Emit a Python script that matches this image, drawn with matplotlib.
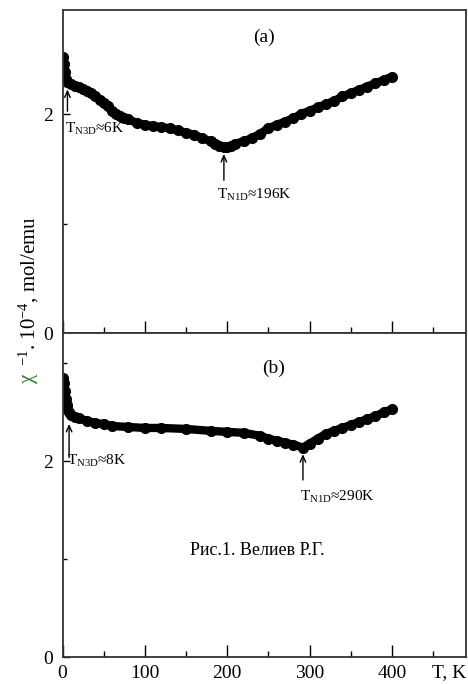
import matplotlib
matplotlib.use("Agg")
import matplotlib.pyplot as plt
from matplotlib.ticker import MultipleLocator

plt.rcParams["font.family"] = ["Liberation Serif", "DejaVu Serif"]
plt.rcParams["mathtext.fontset"] = "custom"
plt.rcParams["mathtext.rm"] = "Liberation Serif"
plt.rcParams["mathtext.it"] = "Liberation Serif:italic"

# panel (a)
t_a = [1, 2, 3, 4, 6, 10, 15, 20, 25, 30, 35, 40, 45, 50, 55, 60, 65, 70, 75,
       80, 90, 100, 110, 120, 130, 140, 150, 160, 170, 180, 185, 190, 196, 200,
       205, 210, 220, 230, 240, 250, 260, 270, 280, 290, 300, 310, 320, 330,
       340, 350, 360, 370, 380, 390, 400]
chi_a = [2.52, 2.46, 2.38, 2.32, 2.29, 2.27, 2.26, 2.25, 2.23, 2.21, 2.19, 2.16,
         2.13, 2.10, 2.07, 2.03, 2.00, 1.98, 1.96, 1.95, 1.92, 1.90, 1.89, 1.88,
         1.87, 1.85, 1.83, 1.81, 1.78, 1.75, 1.73, 1.71, 1.70, 1.70, 1.71, 1.73,
         1.75, 1.78, 1.82, 1.87, 1.90, 1.93, 1.96, 2.00, 2.03, 2.06, 2.09, 2.12,
         2.16, 2.19, 2.22, 2.25, 2.28, 2.31, 2.34]

# panel (b)
t_b = [1, 2, 3, 4, 5, 6, 8, 10, 15, 20, 30, 40, 50, 60, 80, 100, 120, 150, 180,
       200, 220, 240, 250, 260, 270, 280, 292, 300, 310, 320, 330, 340, 350,
       360, 370, 380, 390, 400]
chi_b = [2.85, 2.80, 2.72, 2.64, 2.57, 2.53, 2.50, 2.47, 2.45, 2.44, 2.41, 2.39,
         2.38, 2.36, 2.35, 2.34, 2.34, 2.33, 2.31, 2.30, 2.29, 2.26, 2.23, 2.21,
         2.19, 2.17, 2.14, 2.18, 2.23, 2.28, 2.31, 2.34, 2.37, 2.40, 2.43, 2.46,
         2.50, 2.53]

fig = plt.figure(figsize=(4.68, 6.84), dpi=100)
W, H = 468, 684
left, right = 62.5 / W, 466 / W
ax_a = fig.add_axes([left, 1 - 333 / H, right - left, 323 / H])
ax_b = fig.add_axes([left, 1 - 657 / H, right - left, 324 / H])

for ax, t, chi, ymax in [(ax_a, t_a, chi_a, 2.95), (ax_b, t_b, chi_b, 3.31)]:
    ax.plot(t, chi, "-o", color="black", lw=6, ms=7, solid_capstyle="round")
    ax.set_xlim(0, 490)
    ax.set_ylim(0, ymax)
    ax.xaxis.set_major_locator(MultipleLocator(100))
    ax.xaxis.set_minor_locator(MultipleLocator(50))
    ax.yaxis.set_major_locator(MultipleLocator(2))
    ax.yaxis.set_minor_locator(MultipleLocator(1))
    ax.tick_params(axis="x", which="major", direction="in", length=8.5, width=1,
                   labelsize=14, pad=6)
    ax.tick_params(axis="x", which="minor", direction="in", length=4.5, width=1)
    ax.tick_params(axis="y", which="major", direction="in", length=5, width=1,
                   labelsize=14, pad=7)
    ax.tick_params(axis="y", which="minor", direction="in", length=3, width=1)
    for s in ax.spines.values():
        s.set_color("#333333")
        s.set_linewidth(1.3)

ax_a.tick_params(axis="x", labelbottom=False)

arrow = dict(arrowstyle="->,head_length=0.45,head_width=0.2", color="black", lw=1)

# annotations panel (a)
ax_a.text(245, 2.7, "(a)", fontsize=14, ha="center", va="center")
ax_a.annotate("", xy=(6, 2.25), xytext=(6, 2.0), arrowprops=arrow)
ax_a.text(3, 1.86, "T$_{\\mathrm{N3D}}$≈6K", fontsize=11, ha="left", va="center")
ax_a.annotate("", xy=(196, 1.66), xytext=(196, 1.37), arrowprops=arrow)
ax_a.text(188, 1.26, "T$_{\\mathrm{N1D}}$≈196K", fontsize=11, ha="left", va="center")

# annotations panel (b)
ax_b.text(256, 2.95, "(b)", fontsize=14, ha="center", va="center")
ax_b.annotate("", xy=(8, 2.41), xytext=(8, 2.01), arrowprops=arrow)
ax_b.text(5, 2.0, "T$_{\\mathrm{N3D}}$≈8K", fontsize=11, ha="left", va="center")
ax_b.annotate("", xy=(292, 2.1), xytext=(292, 1.78), arrowprops=arrow)
ax_b.text(288, 1.63, "T$_{\\mathrm{N1D}}$≈290K", fontsize=11, ha="left", va="center")
ax_b.text(155, 1.09, "Рис.1. Велиев Р.Г.", fontsize=13, ha="left", va="center")

fig.text(466 / W, 1 - 673 / H, "T, K", fontsize=14, ha="right", va="center")

# y label: green chi then the rest
fig.text(29 / W, 1 - 383 / H, "χ", fontsize=15, color="#2e7d32", rotation=90,
         rotation_mode="anchor", ha="left", va="center")
fig.text(29 / W, 1 - 366 / H, "$^{\\mathrm{-1}}$. 10$^{\\mathrm{-4}}$, mol/emu",
         fontsize=15, rotation=90, rotation_mode="anchor", ha="left", va="center")

fig.savefig("out.png", dpi=100)
